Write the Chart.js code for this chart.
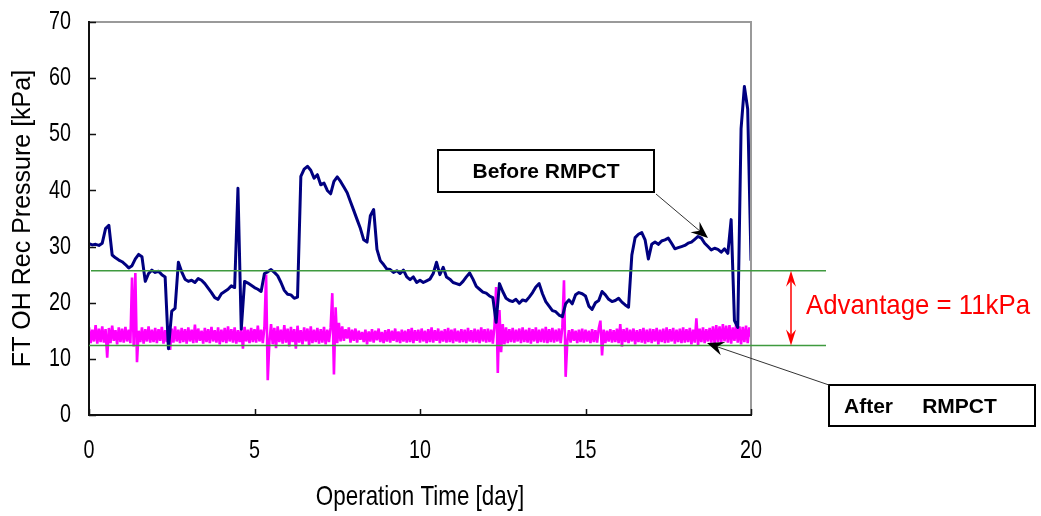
<!DOCTYPE html>
<html>
<head>
<meta charset="utf-8">
<title>FT OH Rec Pressure</title>
<script src="https://cdn.jsdelivr.net/npm/chart.js@4.4.1/dist/chart.umd.min.js"></script>
<style>
  html, body { margin: 0; padding: 0; background: #fff; }
  #wrap { width: 1041px; height: 516px; }
</style>
</head>
<body>
<div id="wrap"><canvas id="chart" width="1041" height="516"></canvas></div>
<script>
// sampling interval of each trace [day]
const BEFORE_STEP = 0.1;
const AFTER_STEP = 0.05;

// FT OH Rec Pressure before RMPCT [kPa], one row per day
const beforeKpa = [
  30.5, 30.3, 30.4, 30.2, 30.6, 33.2, 33.8, 28.5, 28.0, 27.6,
  27.3, 26.8, 26.2, 26.6, 27.8, 28.6, 28.2, 23.8, 25.2, 25.8,
  25.4, 25.6, 25.0, 24.6, 11.8, 18.5, 19.0, 27.2, 25.5, 24.2,
  23.8, 24.0, 23.6, 24.3, 24.0, 23.4, 22.6, 21.8, 20.9, 20.6,
  21.6, 22.0, 22.4, 23.0, 22.7, 40.4, 15.3, 23.8, 23.5, 23.1,
  22.7, 22.4, 22.0, 25.2, 25.5, 25.9, 25.4, 24.8, 23.6, 22.2,
  21.5, 21.4, 20.8, 21.0, 42.5, 43.8, 44.3, 43.6, 42.2, 42.8,
  41.0, 41.3, 40.0, 39.4, 41.6, 42.4, 41.6, 40.6, 39.6, 38.0,
  36.4, 34.8, 33.2, 31.2, 30.8, 35.5, 36.6, 29.5, 27.5, 26.8,
  26.0, 25.9, 25.4, 25.7, 25.2, 25.8, 24.6, 24.1, 24.6, 23.6,
  24.0, 23.6, 23.9, 24.2, 25.2, 27.2, 25.0, 26.3, 24.6, 24.2,
  23.6, 23.4, 23.2, 23.8, 24.6, 25.3, 24.2, 22.9, 22.4, 21.9,
  21.7, 21.2, 20.9, 16.5, 23.4, 22.0, 20.8, 20.4, 20.2, 20.6,
  19.9, 20.5, 20.3, 21.0, 21.8, 22.8, 23.4, 21.6, 20.2, 19.4,
  18.6, 18.4, 17.8, 17.5, 19.8, 20.5, 19.8, 21.4, 21.8, 21.6,
  21.2, 19.4, 18.8, 20.0, 20.4, 22.0, 21.4, 20.6, 20.2, 20.4,
  20.8, 20.1, 19.6, 19.2, 28.5, 31.6, 32.2, 32.5, 31.2, 27.8,
  30.4, 30.8, 30.4, 31.0, 31.2, 31.5, 30.6, 29.6, 29.8, 30.0,
  30.2, 30.6, 30.8, 31.3, 31.8, 31.5, 30.6, 30.0, 29.4, 29.7,
  29.5, 29.0, 29.6, 28.8, 34.8, 16.8, 15.6, 51.0, 58.5, 54.5,
  27.5
];

// FT OH Rec Pressure after RMPCT [kPa], one row per day
const afterKpa = [
  15.6, 12.8, 15.2, 13.1, 16.0, 12.7, 15.4, 13.0, 15.8, 12.9, 15.3, 10.2, 15.5, 12.8, 15.9, 13.2, 15.1, 12.6, 15.6, 13.0,
  15.4, 12.9, 15.7, 13.1, 15.2, 12.8, 24.5, 12.2, 25.3, 9.4, 15.0, 13.0, 15.6, 12.7, 15.3, 13.1, 15.8, 12.9, 15.2, 13.0,
  15.5, 12.8, 15.3, 13.2, 15.7, 12.7, 15.1, 13.0, 15.6, 11.6, 15.4, 12.9, 15.8, 13.1, 15.2, 12.8, 15.5, 13.0, 15.3, 12.7,
  15.6, 13.1, 15.2, 12.8, 16.1, 12.9, 15.4, 13.2, 15.0, 12.7, 15.5, 13.0, 15.3, 12.8, 15.7, 13.1, 15.1, 12.9, 15.6, 12.6,
  15.2, 13.0, 15.5, 12.8, 15.8, 13.1, 15.3, 12.9, 15.6, 12.7, 15.1, 13.0, 15.4, 11.8, 15.7, 13.1, 15.2, 12.8, 15.5, 13.0,
  15.3, 12.9, 15.9, 13.1, 15.2, 12.8, 15.6, 25.0, 6.2, 13.0, 16.2, 12.6, 15.5, 11.9, 15.8, 13.0, 15.2, 12.7, 16.0, 12.9,
  15.4, 12.2, 15.7, 13.0, 15.3, 11.8, 15.9, 12.9, 15.1, 12.6, 15.6, 13.1, 15.4, 12.4, 15.8, 12.8, 15.2, 13.0, 15.5, 12.7,
  15.3, 12.9, 15.7, 12.6, 15.2, 13.0, 15.6, 21.7, 7.2, 19.2, 12.8, 16.4, 13.1, 15.8, 13.2, 15.3, 13.6, 15.6, 12.9, 15.2,
  13.2, 15.4, 12.9, 15.0, 13.4, 14.8, 13.0, 15.2, 12.6, 14.9, 13.1, 15.3, 12.9, 15.0, 13.3, 15.4, 13.0, 14.8, 12.8, 15.1,
  13.1, 15.3, 12.9, 15.0, 13.2, 15.4, 13.0, 14.9, 12.8, 15.2, 13.1, 15.0, 12.9, 15.3, 13.0, 15.5, 12.8, 15.1, 13.2, 15.2,
  12.9, 15.4, 13.1, 15.0, 12.8, 15.3, 13.0, 15.6, 12.9, 15.1, 13.2, 15.4, 12.8, 15.0, 13.1, 15.3, 12.9, 15.5, 13.0, 15.2,
  12.8, 15.4, 13.1, 15.0, 12.9, 15.3, 13.0, 15.2, 12.8, 15.5, 13.1, 15.1, 12.9, 15.4, 13.0, 15.2, 12.8, 15.6, 13.1, 15.3,
  12.9, 15.4, 13.0, 15.2, 12.7, 15.8, 22.8, 7.5, 18.7, 11.2, 16.2, 12.6, 15.6, 12.8, 15.3, 13.0, 15.5, 12.9, 15.2, 13.1,
  15.4, 12.8, 15.6, 13.0, 15.2, 12.9, 15.5, 12.7, 15.3, 13.1, 15.6, 12.8, 15.2, 13.0, 15.4, 12.9, 15.7, 12.8, 15.3, 13.0,
  15.5, 12.9, 15.2, 13.1, 15.4, 12.8, 15.6, 24.0, 6.8, 13.0, 15.1, 12.9, 15.3, 13.2, 15.0, 12.8, 15.2, 13.0, 15.4, 12.9,
  15.2, 13.1, 15.0, 12.8, 15.3, 13.0, 15.1, 12.9, 15.4, 16.8, 10.6, 15.2, 12.8, 15.0, 13.1, 15.3, 12.9, 15.1, 13.0, 15.4,
  12.8, 16.2, 12.2, 15.3, 13.0, 15.5, 12.8, 15.2, 13.1, 15.4, 12.6, 15.1, 13.0, 15.3, 12.9, 15.5, 12.7, 15.2, 13.0, 15.4,
  12.8, 15.3, 13.1, 15.5, 12.6, 15.2, 13.0, 15.4, 12.8, 15.6, 12.9, 15.3, 13.1, 15.5, 12.7, 15.2, 13.0, 15.4, 12.8, 15.6,
  12.9, 15.3, 13.0, 15.5, 12.6, 15.2, 12.9, 17.2, 12.4, 15.4, 13.0, 15.6, 12.8, 15.3, 13.1, 15.5, 12.9, 15.8, 12.7, 16.0,
  13.0, 15.8, 12.8, 16.2, 13.1, 15.9, 12.9, 16.0, 12.7, 15.6, 13.2, 16.1, 12.9, 15.8, 12.6, 15.7, 13.0, 15.9, 12.8, 15.6,
  14.0
];

const xTicks = [0, 5, 10, 15, 20];
const yTicks = [0, 10, 20, 30, 40, 50, 60, 70];

// reference levels marked by the green lines [kPa]
const levelBefore = 25.7;
const levelAfter = 12.4;

const advantageText = 'Advantage = 11kPa';
const beforeLabel = 'Before RMPCT';
const afterLabel = 'After     RMPCT';
const xTitle = 'Operation Time [day]';
const yTitle = 'FT OH Rec Pressure [kPa]';

const SANS = "'Liberation Sans', Arial, sans-serif";
// the original lettering on the axes is tall and narrow
const SQUEEZE = 0.76;

const toPoints = (values, step) => values.map((v, i) => ({ x: +(i * step).toFixed(2), y: v }));

function arrowHead(ctx, tipX, tipY, fromX, fromY, len, halfW, color) {
  const a = Math.atan2(tipY - fromY, tipX - fromX);
  ctx.save();
  ctx.translate(tipX, tipY);
  ctx.rotate(a);
  ctx.beginPath();
  ctx.moveTo(0, 0);
  ctx.lineTo(-len, -halfW);
  ctx.lineTo(-len * 0.65, 0);
  ctx.lineTo(-len, halfW);
  ctx.closePath();
  ctx.fillStyle = color;
  ctx.fill();
  ctx.restore();
}

function squeezedText(ctx, text, x, y, sx, font, color, align) {
  ctx.save();
  ctx.font = font;
  ctx.fillStyle = color;
  ctx.textAlign = align;
  ctx.textBaseline = 'middle';
  ctx.translate(x, y);
  ctx.scale(sx, 1);
  ctx.fillText(text, 0, 0);
  ctx.restore();
}

function fittedText(ctx, text, x, y, width, font, color) {
  ctx.save();
  ctx.font = font;
  const w = ctx.measureText(text).width;
  ctx.restore();
  squeezedText(ctx, text, x, y, width / w, font, color, 'left');
}

const framePlugin = {
  id: 'frame',
  beforeDraw(chart) {
    const ctx = chart.ctx;
    ctx.save();
    ctx.fillStyle = '#fff';
    ctx.fillRect(0, 0, chart.width, chart.height);
    ctx.restore();
  },
  afterDatasetsDraw(chart) {
    const { ctx, chartArea: a, scales: { x, y } } = chart;
    ctx.save();
    // top and right border (grey)
    ctx.strokeStyle = '#9a9a9a';
    ctx.lineWidth = 2;
    ctx.beginPath();
    ctx.moveTo(a.left, a.top);
    ctx.lineTo(a.right, a.top);
    ctx.lineTo(a.right, a.bottom);
    ctx.stroke();
    // axes (black)
    ctx.strokeStyle = '#111';
    ctx.beginPath();
    ctx.moveTo(a.left, a.top - 1);
    ctx.lineTo(a.left, a.bottom);
    ctx.lineTo(a.right + 1, a.bottom);
    ctx.stroke();
    // inward tick marks
    ctx.lineWidth = 1.5;
    ctx.beginPath();
    yTicks.forEach(v => {
      const py = Math.round(y.getPixelForValue(v)) + 0.5;
      ctx.moveTo(a.left, py);
      ctx.lineTo(a.left + 7, py);
    });
    xTicks.forEach(v => {
      const px = Math.round(x.getPixelForValue(v)) + 0.5;
      ctx.moveTo(px, a.bottom);
      ctx.lineTo(px, a.bottom - 6);
    });
    ctx.stroke();

    // tick labels and x title
    yTicks.forEach(v => {
      squeezedText(ctx, String(v), a.left - 18, y.getPixelForValue(v), SQUEEZE, '26px ' + SANS, '#000', 'right');
    });
    xTicks.forEach(v => {
      squeezedText(ctx, String(v), x.getPixelForValue(v), a.bottom + 36, SQUEEZE, '26px ' + SANS, '#000', 'center');
    });
    squeezedText(ctx, xTitle, (a.left + a.right) / 2, a.bottom + 82, 0.8, '28px ' + SANS, '#000', 'center');

    // green reference levels, running past the plot
    const yB = y.getPixelForValue(levelBefore);
    const yA = y.getPixelForValue(levelAfter);
    const lineEnd = a.right + 75;
    ctx.strokeStyle = '#3f9a3f';
    ctx.lineWidth = 1.5;
    ctx.beginPath();
    ctx.moveTo(a.left + 2, yB);
    ctx.lineTo(lineEnd, yB);
    ctx.moveTo(a.left, yA);
    ctx.lineTo(lineEnd, yA);
    ctx.stroke();

    // red double arrow with the advantage text
    const ax = a.right + 40;
    ctx.strokeStyle = '#ff0000';
    ctx.lineWidth = 1.5;
    ctx.beginPath();
    ctx.moveTo(ax, yB + 4);
    ctx.lineTo(ax, yA - 4);
    ctx.stroke();
    arrowHead(ctx, ax, yB, ax, yB + 20, 16, 5, '#ff0000');
    arrowHead(ctx, ax, yA, ax, yA - 20, 16, 5, '#ff0000');
    fittedText(ctx, advantageText, a.right + 55, (yB + yA) / 2 - 2, 224, '28px ' + SANS, '#ff0000');

    // callout boxes
    ctx.lineWidth = 2;
    ctx.strokeStyle = '#000';
    ctx.fillStyle = '#fff';
    ctx.fillRect(438, 150, 216, 42);
    ctx.strokeRect(438, 150, 216, 42);
    ctx.fillRect(829, 385, 206, 41);
    ctx.strokeRect(829, 385, 206, 41);
    ctx.fillStyle = '#000';
    ctx.font = 'bold 21px ' + SANS;
    ctx.textBaseline = 'middle';
    ctx.textAlign = 'center';
    ctx.fillText(beforeLabel, 546, 172);
    ctx.textAlign = 'left';
    ctx.fillText(afterLabel, 844, 407);

    // callout leader arrows
    ctx.strokeStyle = '#333';
    ctx.lineWidth = 1;
    const bTip = { x: 708, y: 238 };
    ctx.beginPath();
    ctx.moveTo(656, 194);
    ctx.lineTo(bTip.x - 4, bTip.y - 3.5);
    ctx.stroke();
    arrowHead(ctx, bTip.x, bTip.y, 656, 194, 17, 7, '#000');
    const aTip = { x: 707, y: 343 };
    ctx.beginPath();
    ctx.moveTo(829, 385);
    ctx.lineTo(aTip.x + 5, aTip.y + 2);
    ctx.stroke();
    arrowHead(ctx, aTip.x, aTip.y, 829, 385, 17, 7, '#000');
    ctx.restore();
  }
};

new Chart(document.getElementById('chart'), {
  type: 'line',
  data: {
    datasets: [
      {
        label: beforeLabel,
        data: toPoints(beforeKpa, BEFORE_STEP),
        borderColor: '#000080',
        borderWidth: 3,
        borderJoinStyle: 'round',
        pointRadius: 0,
        tension: 0,
        order: 0
      },
      {
        label: 'After RMPCT',
        data: toPoints(afterKpa, AFTER_STEP),
        borderColor: '#ff00ff',
        borderWidth: 2.6,
        borderJoinStyle: 'bevel',
        pointRadius: 0,
        tension: 0,
        order: 1
      }
    ]
  },
  options: {
    responsive: false,
    animation: false,
    events: [],
    layout: { padding: { top: 22, right: 290, bottom: 0, left: 0 } },
    plugins: {
      legend: { display: false },
      tooltip: { enabled: false }
    },
    scales: {
      x: {
        type: 'linear',
        min: xTicks[0],
        max: xTicks[xTicks.length - 1],
        afterBuildTicks: s => { s.ticks = xTicks.map(v => ({ value: v })); },
        afterFit: s => { s.height = 101; },
        grid: { display: false, drawTicks: false },
        border: { display: false },
        ticks: { display: false }
      },
      y: {
        min: yTicks[0],
        max: yTicks[yTicks.length - 1],
        afterBuildTicks: s => { s.ticks = yTicks.map(v => ({ value: v })); },
        afterFit: s => { s.width = 89; },
        grid: { display: false, drawTicks: false },
        border: { display: false },
        ticks: { display: false },
        title: {
          display: true,
          text: yTitle,
          color: '#000',
          padding: { top: 8, bottom: 0 },
          font: { family: SANS, size: 25 }
        }
      }
    }
  },
  plugins: [framePlugin]
});
</script>
</body>
</html>
